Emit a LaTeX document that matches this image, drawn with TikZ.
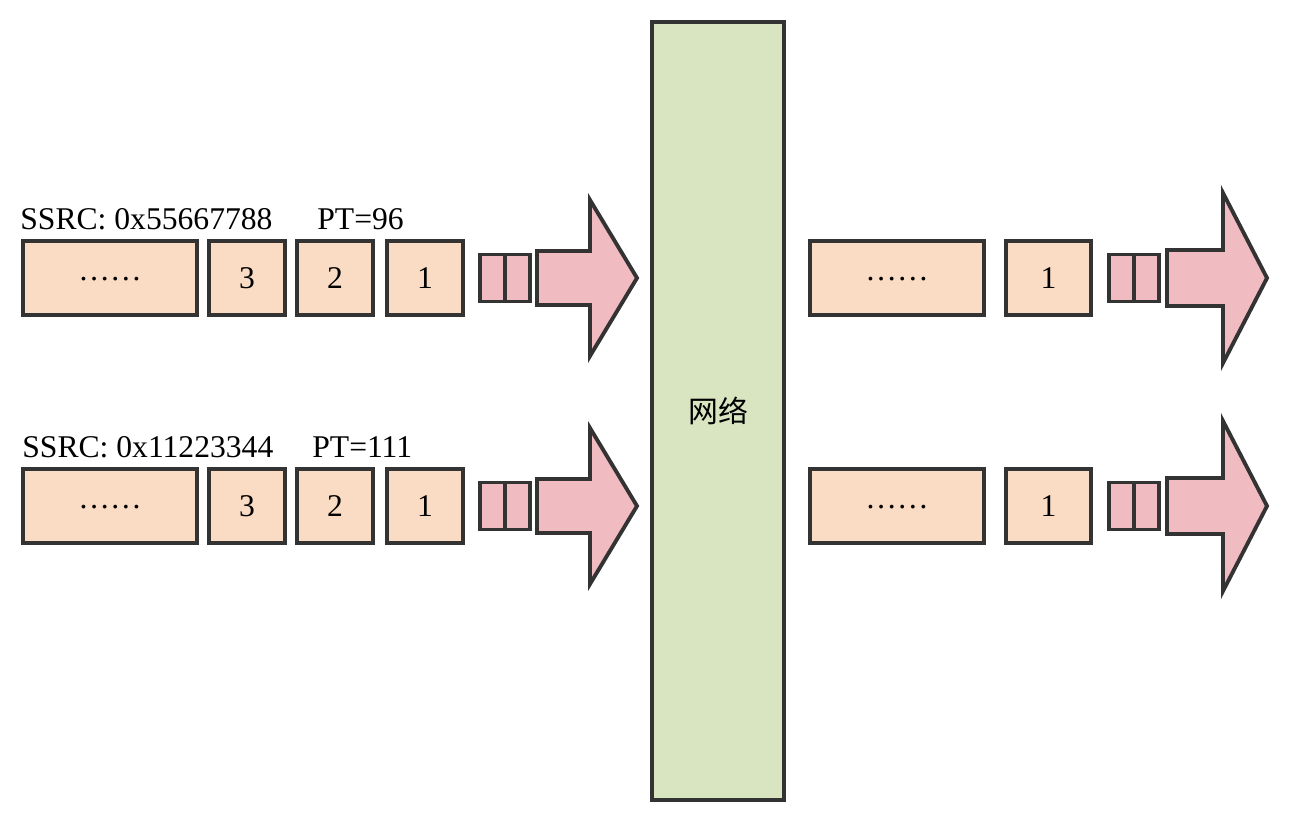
\documentclass[tikz,border=0pt]{standalone}
\usepackage{fontspec}
\setmainfont{Liberation Serif}
\newfontfamily\cjk{Noto Sans CJK SC}
\usetikzlibrary{positioning}
\definecolor{peach}{HTML}{F9DCC3}
\definecolor{rose}{HTML}{F1BCC1}
\definecolor{leaf}{HTML}{D9E4C0}
\definecolor{ink}{HTML}{333333}
\tikzset{
  pkt/.style={draw=ink, line width=2.2pt, fill=peach, inner sep=0pt, outer sep=0pt,
    minimum height=1.48cm, minimum width=1.52cm, font=\fontsize{18}{20}\selectfont},
  hdr/.style={draw=ink, line width=2.2pt, fill=rose, inner sep=0pt, outer sep=0pt,
    minimum width=1cm, minimum height=0.94cm},
  bigarrow/.style={draw=ink, line width=2.2pt, fill=rose, line join=miter},
  lbl/.style={anchor=base west, inner sep=0pt, font=\fontsize{18}{20}\selectfont}
}
% one sending stream, centred on y=0
\def\drawSender{
\node[pkt, minimum width=3.48cm] (dots) at (110,0) {\raisebox{-0.15em}{……}};
\node[pkt, right=0.24cm of dots] (p3) {\raisebox{-0.1em}{3}};
\node[pkt, right=0.24cm of p3] (p2) {\raisebox{-0.1em}{2}};
\node[pkt, right=0.28cm of p2] (p1) {\raisebox{-0.1em}{1}};
\node[hdr, right=0.34cm of p1] (hd) {};
\draw[draw=ink, line width=2.2pt] (hd.north) -- (hd.south);
\draw[bigarrow] (537,-27) -- (590,-27) -- (590,-78) -- (637,0) -- (590,78) -- (590,27) -- (537,27) -- cycle;
}
% one received stream, centred on y=0
\def\drawReceiver{
\node[pkt, minimum width=3.48cm] (dots) at (897,0) {\raisebox{-0.15em}{……}};
\node[pkt, minimum width=1.7cm, right=0.44cm of dots] (p1) {\raisebox{-0.1em}{1}};
\node[hdr, right=0.36cm of p1] (hd) {};
\draw[draw=ink, line width=2.2pt] (hd.north) -- (hd.south);
\draw[bigarrow] (1167,-28) -- (1223,-28) -- (1223,-85) -- (1267,0) -- (1223,85) -- (1223,28) -- (1167,28) -- cycle;
}

\begin{document}
\begin{tikzpicture}[x=0.02cm, y=-0.02cm]
  \useasboundingbox[fill=white] (0,0) rectangle (1293,821);
  \node[draw=ink, line width=2.2pt, fill=leaf, minimum width=2.64cm, minimum height=15.56cm,
    font=\cjk\fontsize{17}{20}\selectfont] (net) at (718,411) {网络};
\begin{scope}[shift={(0,278)}]
  \drawSender
  \node[lbl] (ssrcA) at (20,-49) {SSRC: 0x55667788};
  \node[lbl] (ptA) at (317,-49) {PT=96};
  \drawReceiver
\end{scope}
\begin{scope}[shift={(0,506)}]
  \drawSender
  \node[lbl] (ssrcB) at (22,-49) {SSRC: 0x11223344};
  \node[lbl] (ptB) at (312,-49) {PT=111};
  \drawReceiver
\end{scope}
\end{tikzpicture}
\end{document}
